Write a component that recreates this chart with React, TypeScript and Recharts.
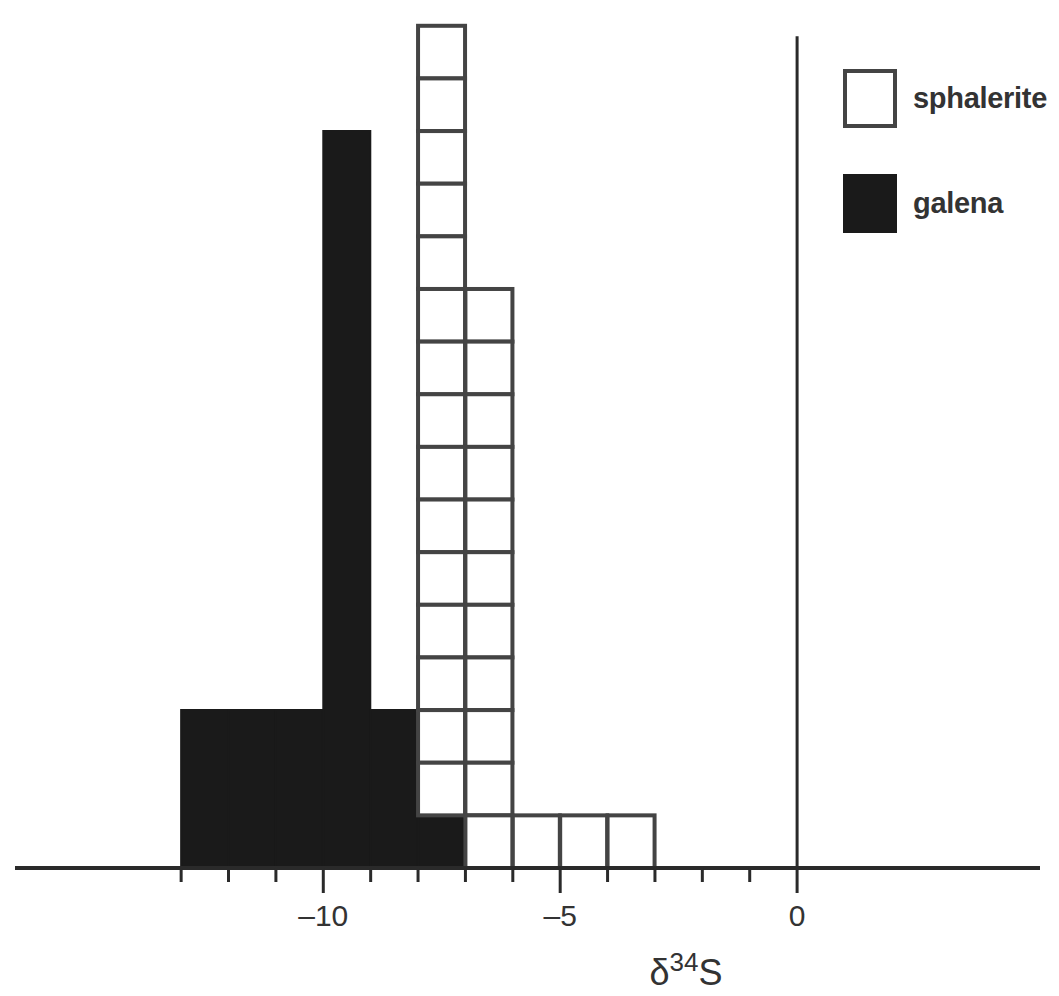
import { Bar, BarChart, Legend, ReferenceLine, XAxis, YAxis } from "recharts";

// 1‰ bins, keyed by their left edge (δ34S, ‰ CDT)
const BINS = [-16, -15, -14, -13, -12, -11, -10, -9, -8, -7, -6, -5, -4, -3, -2, -1, 0, 1, 2, 3, 4];
const GALENA = [0, 0, 0, 3, 3, 3, 14, 3, 1, 0, 0, 0, 0, 0, 0, 0, 0, 0, 0, 0, 0];
const SPHALERITE = [0, 0, 0, 0, 0, 0, 0, 0, 15, 11, 1, 1, 1, 0, 0, 0, 0, 0, 0, 0, 0];

const X_TICKS = [-13, -12, -11, -10, -9, -8, -7, -6, -5, -4, -3, -2, -1, 0];
const LABELLED_TICKS = [-10, -5, 0];
const X_DOMAIN = [-16, 5];
const Y_MAX = 16.3;
const ZERO_LINE_TOP = 15.8;
const LEGEND_ITEMS = ["sphalerite", "galena"];

const rows = BINS.map((bin, i) => ({
  bin,
  galena: GALENA[i],
  sphalerite: SPHALERITE[i],
}));

const INK = "#1a1a1a";
const AXIS = "#2a2a2a";
const BOX_LINE = "#444";
const FONT = "'Liberation Sans', Arial, sans-serif";
const X_PADDING = { left: 24, right: 6 };

const swatch: Record<string, React.CSSProperties> = {
  sphalerite: { background: "#fff", border: `4px solid ${BOX_LINE}` },
  galena: { background: INK, border: `4px solid ${INK}` },
};

const formatTick = (v: number) => (v < 0 ? `–${Math.abs(v)}` : `${v}`);

// short tick at every permil, long tick plus number every 5‰
function EdgeTick({ x, y, payload }: any) {
  const major = LABELLED_TICKS.includes(payload.value);
  return (
    <g>
      <line x1={x} x2={x} y1={y} y2={y + (major ? 25 : 14)} stroke={AXIS} strokeWidth={3} />
      {major && (
        <text
          x={x}
          y={y + 37}
          dy="0.71em"
          textAnchor="middle"
          fontFamily={FONT}
          fontSize={30}
          fill="#333"
        >
          {formatTick(payload.value)}
        </text>
      )}
    </g>
  );
}

// each sphalerite analysis gets its own box in the stack
function BoxStack(props: any) {
  const { x, y, width, height, payload } = props;
  const n = payload.sphalerite;
  if (!n || !(height > 0)) return null;
  const h = height / n;
  return (
    <g>
      {Array.from({ length: n }, (_, i) => (
        <rect
          key={i}
          x={x}
          y={y + i * h}
          width={width}
          height={h}
          fill="#fff"
          stroke={BOX_LINE}
          strokeWidth={4}
        />
      ))}
    </g>
  );
}

function SeriesKey() {
  return (
    <div style={{ display: "flex", flexDirection: "column", gap: 46 }}>
      {LEGEND_ITEMS.map((name) => (
        <div key={name} style={{ display: "flex", alignItems: "center" }}>
          <div style={{ width: 54, height: 59, boxSizing: "border-box", ...swatch[name] }} />
          <span
            style={{
              marginLeft: 16,
              fontFamily: FONT,
              fontWeight: "bold",
              fontSize: 29,
              letterSpacing: -0.3,
              color: "#333",
              whiteSpace: "nowrap",
            }}
          >
            {name}
          </span>
        </div>
      ))}
    </div>
  );
}

function AxisTitle() {
  return (
    <text x={678} y={985} textAnchor="middle" fontFamily={FONT} fontSize={36} fill="#333">
      <tspan>δ</tspan>
      <tspan fontSize={26} dy={-14}>
        34
      </tspan>
      <tspan fontSize={36} dy={14}>
        S
      </tspan>
    </text>
  );
}

export default function App() {
  return (
    <div style={{ marginTop: -8, marginBottom: -8 }}>
      <BarChart
        width={1051}
        height={994}
        data={rows}
        margin={{ top: 10, right: 19, bottom: 125, left: 7 }}
        barCategoryGap={0}
        barGap={0}
      >
        <XAxis
          xAxisId="permil"
          dataKey="bin"
          type="number"
          domain={X_DOMAIN}
          allowDataOverflow
          ticks={X_TICKS}
          interval={0}
          padding={X_PADDING}
          height={1}
          tickSize={0}
          tickMargin={0}
          tickLine={false}
          tick={EdgeTick}
          axisLine={{ stroke: AXIS, strokeWidth: 4 }}
          label={AxisTitle}
        />
        <XAxis xAxisId="bins" dataKey="bin" type="category" hide height={0} padding={X_PADDING} />
        <YAxis hide domain={[0, Y_MAX]} allowDataOverflow />
        <ReferenceLine
          xAxisId="permil"
          segment={[
            { x: 0, y: 0 },
            { x: 0, y: ZERO_LINE_TOP },
          ]}
          stroke={AXIS}
          strokeWidth={3}
          ifOverflow="visible"
        />
        <Bar
          xAxisId="bins"
          dataKey="galena"
          name="galena"
          stackId="n"
          fill={INK}
          stroke={INK}
          strokeWidth={2}
          isAnimationActive={false}
        />
        <Bar
          xAxisId="bins"
          dataKey="sphalerite"
          name="sphalerite"
          stackId="n"
          shape={BoxStack}
          isAnimationActive={false}
        />
        <Legend
          layout="vertical"
          align="center"
          verticalAlign="middle"
          wrapperStyle={{ left: 835, top: 69, width: 220 }}
          content={SeriesKey}
        />
      </BarChart>
    </div>
  );
}
